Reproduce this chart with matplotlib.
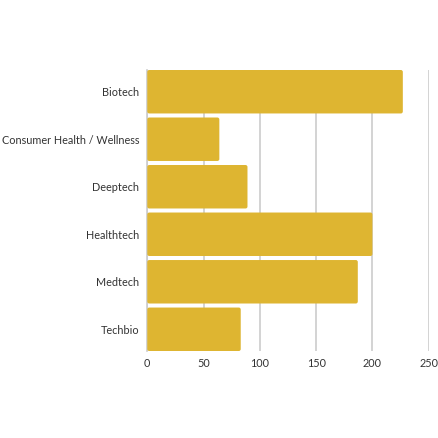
import matplotlib
matplotlib.use("Agg")
import matplotlib.pyplot as plt
from matplotlib.patches import FancyBboxPatch

categories = ["Biotech", "Consumer Health / Wellness", "Deeptech", "Healthtech", "Medtech", "Techbio"]
values = [227, 64, 89, 200, 187, 83]
xticks = [0, 50, 100, 150, 200, 250]

plt.rcParams['font.family'] = ['Lato', 'DejaVu Sans']

fig = plt.figure(figsize=(4.38, 4.38), dpi=100)
ax = fig.add_axes([0.3363, 0.1986, 0.6425, 0.6416])

H = 0.915
y = list(range(len(categories)))
bars = ax.barh(y, values, height=H, color='#DEB531', zorder=3)
ax.set_yticks(y)
ax.set_yticklabels(categories)
ax.set_ylim(len(categories) - 1 + H / 2, -H / 2)
ax.set_xlim(0, 250)
ax.set_xticks(xticks)
ax.set_xticklabels([str(t) for t in xticks])

# rounded corners
fig.canvas.draw()
bb = ax.get_window_extent()
xpx = bb.width / 250.0
ypx = bb.height / (len(categories) - 1 + H)
aspect = xpx / ypx
for r in bars:
    x0, y0, w, h = r.get_x(), r.get_y(), r.get_width(), r.get_height()
    r.set_visible(False)
    p = FancyBboxPatch((x0, y0), w, h, boxstyle="round,pad=0,rounding_size=%f" % (2.0 / xpx),
                       mutation_aspect=aspect, facecolor='#DEB531', edgecolor='none', zorder=3)
    ax.add_patch(p)

ax.grid(axis='x', color='#cccccc', linewidth=1.2, zorder=0)
ax.grid(axis='y', visible=False)
for s in ['top', 'right', 'bottom']:
    ax.spines[s].set_visible(False)
ax.spines['left'].set_color('#cccccc')
ax.spines['left'].set_linewidth(1.2)
ax.tick_params(axis='both', length=0, labelsize=7.8, colors='#333333')
ax.tick_params(axis='y', pad=5.8)
ax.tick_params(axis='x', pad=5)

fig.savefig("out.png", dpi=100, facecolor='white')
